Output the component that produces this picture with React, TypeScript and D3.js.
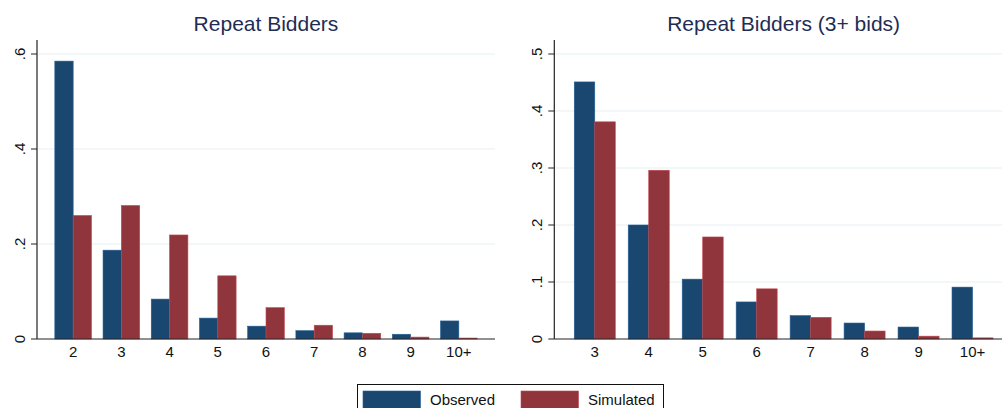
import * as d3 from 'd3';

const groups = ['Observed', 'Simulated'];
const groupColors = ['#1a476f', '#90353b'];

const leftCategories = ['2', '3', '4', '5', '6', '7', '8', '9', '10+'];
const leftObserved = [0.585, 0.187, 0.084, 0.044, 0.027, 0.0175, 0.013, 0.01, 0.038];
const leftSimulated = [0.26, 0.281, 0.219, 0.133, 0.066, 0.029, 0.012, 0.004, 0.002];
const leftTicks = [0, 0.2, 0.4, 0.6];

const rightCategories = ['3', '4', '5', '6', '7', '8', '9', '10+'];
const rightObserved = [0.451, 0.2, 0.105, 0.065, 0.041, 0.028, 0.021, 0.091];
const rightSimulated = [0.381, 0.296, 0.179, 0.088, 0.038, 0.014, 0.005, 0.002];
const rightTicks = [0, 0.1, 0.2, 0.3, 0.4, 0.5];

const FONT = "'Liberation Sans', Arial, sans-serif";
const TOP = 40;
const BOTTOM = 339;

// stata style labels: ".2" instead of "0.2"
const fmt = (v: number) => (v === 0 ? '0' : d3.format('.1f')(v).replace(/^0/, ''));

type PanelProps = {
  title: string;
  x0: number;
  x1: number;
  yMax: number;
  categories: string[];
  observed: number[];
  simulated: number[];
  ticks: number[];
};

const Panel = ({ title, x0, x1, yMax, categories, observed, simulated, ticks }: PanelProps) => {
  const xScale = d3
    .scaleBand<string>()
    .domain(categories)
    .range([x0, x1])
    .paddingInner(0.24)
    .paddingOuter(0.37);
  const subScale = d3.scaleBand<string>().domain(groups).range([0, xScale.bandwidth()]);
  const yScale = d3.scaleLinear().domain([0, yMax]).range([BOTTOM, TOP]);
  const color = d3.scaleOrdinal<string>().domain(groups).range(groupColors);

  const rows = categories.map((c, i) => ({ cat: c, Observed: observed[i], Simulated: simulated[i] }));

  return (
    <g>
      <text
        x={(x0 + x1) / 2}
        y={31}
        textAnchor="middle"
        fontFamily={FONT}
        fontSize={21}
        fill="#1e2d55"
      >
        {title}
      </text>
      {ticks.filter((t) => t > 0).map((t) => (
        <line key={'g' + t} x1={x0} x2={x1} y1={yScale(t)} y2={yScale(t)} stroke="#e6eff2" strokeWidth={1} />
      ))}
      {rows.map((r) => (
        <g key={r.cat} transform={`translate(${xScale(r.cat)},0)`}>
          {groups.map((g) => {
            const v = (r as any)[g] as number;
            const col = color(g);
            return (
              <rect
                key={g}
                x={subScale(g)}
                y={yScale(v)}
                width={subScale.bandwidth()}
                height={BOTTOM - yScale(v)}
                fill={col}
                stroke={d3.color(col)!.brighter(0.8).formatHex()}
                strokeWidth={0.6}
              />
            );
          })}
          <text
            x={xScale.bandwidth() / 2}
            y={356.5}
            textAnchor="middle"
            fontFamily={FONT}
            fontSize={15}
            fill="#111"
          >
            {r.cat}
          </text>
        </g>
      ))}
      <line x1={x0} x2={x0} y1={TOP} y2={BOTTOM} stroke="#222" strokeWidth={1.2} />
      <line x1={x0} x2={x1} y1={BOTTOM} y2={BOTTOM} stroke="#222" strokeWidth={1.2} />
      {ticks.map((t) => (
        <g key={'t' + t}>
          <line x1={x0 - 6} x2={x0} y1={yScale(t)} y2={yScale(t)} stroke="#222" strokeWidth={1} />
          <text
            transform={`translate(${x0 - 12},${yScale(t)}) rotate(-90)`}
            textAnchor="middle"
            fontFamily={FONT}
            fontSize={15}
            fill="#111"
          >
            {fmt(t)}
          </text>
        </g>
      ))}
    </g>
  );
};

export default function App() {
  const color = d3.scaleOrdinal<string>().domain(groups).range(groupColors);
  const legendX = d3.scalePoint<string>().domain(groups).range([363, 521]);
  return (
    <svg
      width={1002}
      height={408}
      style={{ position: 'absolute', left: 0, top: 0, background: '#fff' }}
    >
      <rect x={0} y={0} width={1002} height={408} fill="#fff" />
      <Panel
        title="Repeat Bidders"
        x0={37}
        x1={495}
        yMax={(BOTTOM - TOP) / 475}
        categories={leftCategories}
        observed={leftObserved}
        simulated={leftSimulated}
        ticks={leftTicks}
      />
      <Panel
        title="Repeat Bidders (3+ bids)"
        x0={554.3}
        x1={1013}
        yMax={(BOTTOM - TOP) / 570}
        categories={rightCategories}
        observed={rightObserved}
        simulated={rightSimulated}
        ticks={rightTicks}
      />
      <rect x={357.5} y={384.5} width={306} height={40} fill="#fff" stroke="#111" strokeWidth={1} />
      {groups.map((g) => (
        <g key={g} transform={`translate(${legendX(g)},0)`}>
          <rect
            x={0}
            y={391}
            width={57.5}
            height={20}
            fill={color(g)}
            stroke={d3.color(color(g))!.brighter(0.8).formatHex()}
            strokeWidth={0.6}
          />
          <text x={67} y={404.5} fontFamily={FONT} fontSize={15} fill="#111">
            {g}
          </text>
        </g>
      ))}
    </svg>
  );
}
